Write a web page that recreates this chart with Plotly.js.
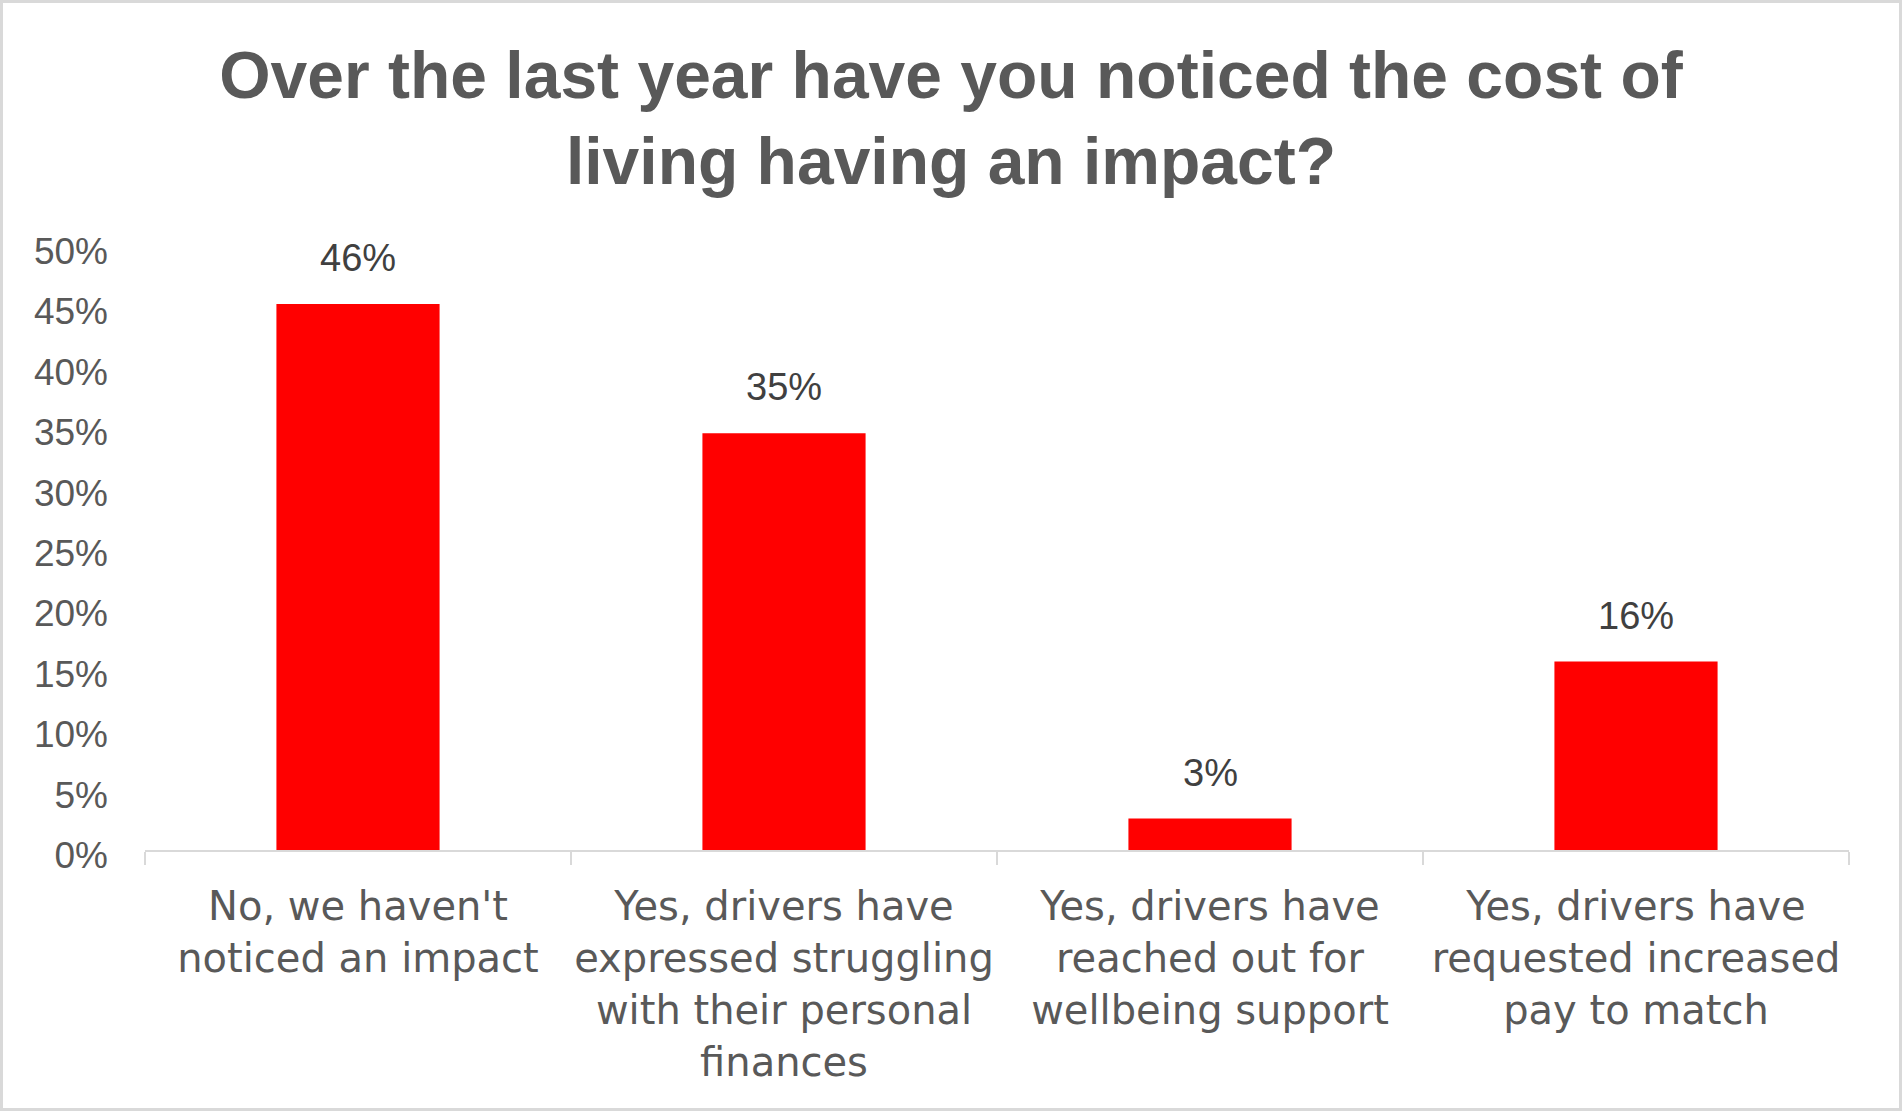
<!DOCTYPE html>
<html>
<head>
<meta charset="utf-8">
<script src="https://cdn.plot.ly/plotly-3.0.1.min.js"></script>
<style>
  html, body { margin: 0; padding: 0; background: #ffffff; }
  #chart { width: 1902px; height: 1111px; }
  #frame { position: absolute; left: 0; top: 0; width: 1902px; height: 1111px; box-sizing: border-box; border: 3px solid #d9d9d9; pointer-events: none; }
</style>
</head>
<body>
<div id="chart"></div>
<div id="frame"></div>
<script>
const chartTitle = "Over the last year have you noticed the cost of<br>living having an impact?";
const categories = [
  "No, we haven't<br>noticed an impact",
  "Yes, drivers have<br>expressed struggling<br>with their personal<br>finances",
  "Yes, drivers have<br>reached out for<br>wellbeing support",
  "Yes, drivers have<br>requested increased<br>pay to match"
];
const values = [0.452, 0.345, 0.026, 0.156];
const dataLabels = ["46%", "35%", "3%", "16%"];
const yTickVals = [0, 0.05, 0.10, 0.15, 0.20, 0.25, 0.30, 0.35, 0.40, 0.45, 0.50];
const yTickText = ["0%", "5%", "10%", "15%", "20%", "25%", "30%", "35%", "40%", "45%", "50%"];

const trace = {
  type: 'bar',
  x: categories,
  y: values,
  marker: { color: '#ff0000' },
  hoverinfo: 'skip'
};

const annotations = categories.map((c, i) => ({
  x: c,
  y: values[i],
  xref: 'x',
  yref: 'y',
  text: dataLabels[i],
  showarrow: false,
  yanchor: 'middle',
  yshift: 46,
  font: { family: 'Liberation Sans, Arial, sans-serif', size: 38, color: '#404040' }
}));

const layout = {
  width: 1902,
  height: 1111,
  paper_bgcolor: '#ffffff',
  plot_bgcolor: '#ffffff',
  margin: { l: 145, r: 53, t: 246, b: 261 },
  showlegend: false,
  bargap: 0.617,
  title: {
    text: chartTitle,
    x: 0.5,
    xref: 'container',
    xanchor: 'center',
    y: 0.912,
    yref: 'container',
    yanchor: 'top',
    font: { family: 'Liberation Sans, Arial, sans-serif', size: 66, color: '#595959', weight: 'bold' }
  },
  xaxis: {
    showline: true,
    linecolor: '#d9d9d9',
    linewidth: 2,
    ticks: 'outside',
    tickson: 'boundaries',
    ticklen: 13,
    tickwidth: 2,
    tickcolor: '#d9d9d9',
    tickangle: 0,
    showgrid: false,
    zeroline: false,
    ticklabelstandoff: 20,
    tickfont: { family: 'DejaVu Sans, sans-serif', size: 40, color: '#595959' },
    automargin: false
  },
  yaxis: {
    range: [0, 0.5],
    tickvals: yTickVals,
    ticktext: yTickText,
    showline: false,
    showgrid: false,
    zeroline: false,
    ticks: '',
    ticklabelstandoff: 36,
    ticklabelshift: 5,
    tickfont: { family: 'Liberation Sans, Arial, sans-serif', size: 37, color: '#595959' },
    automargin: false
  },
  annotations: annotations
};

Plotly.newPlot('chart', [trace], layout, { displayModeBar: false, staticPlot: true });
</script>
</body>
</html>
